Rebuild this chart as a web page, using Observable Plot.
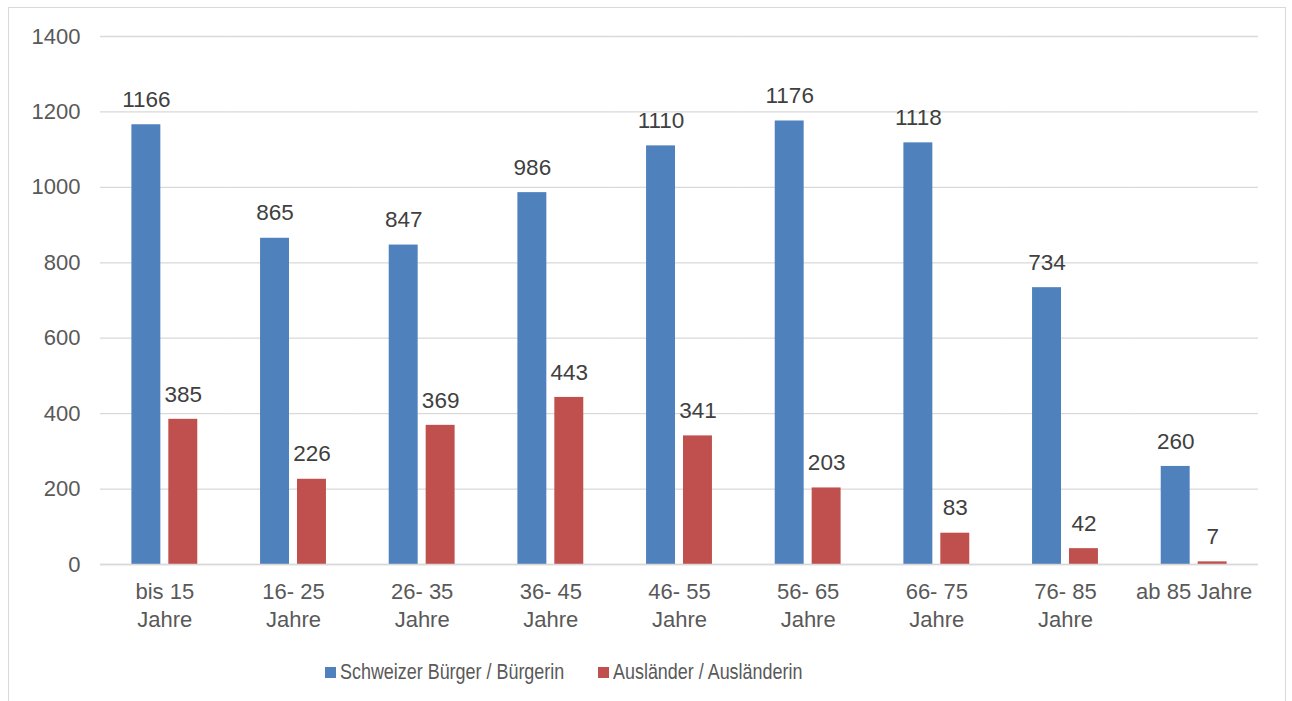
<!DOCTYPE html>
<html>
<head>
<meta charset="utf-8">
<script src="https://cdn.jsdelivr.net/npm/d3@7"></script>
<script src="https://cdn.jsdelivr.net/npm/@observablehq/plot@0.6"></script>
<style>
  html, body { margin: 0; padding: 0; background: #fff; width: 1292px; height: 701px; overflow: hidden; }
  #frame { position: absolute; left: 8px; top: 7px; width: 1278px; height: 720px; border: 1.5px solid #d9d9d9; box-sizing: border-box; }
  #chart { position: absolute; left: 0; top: 0; }
  #legend { position: absolute; left: 0; top: 658px; width: 1292px; height: 28px;
            font-family: "Liberation Sans", Arial, sans-serif; font-size: 22px; color: #595959; }
  .item { position: absolute; top: 0; height: 28px; display: flex; align-items: center; white-space: nowrap; }
  .sw { width: 11px; height: 11px; margin-right: 4px; flex: none; }
  .lt { display: inline-block; transform: scaleX(0.815); transform-origin: 0 50%; }
</style>
</head>
<body>
<div id="frame"></div>
<div id="chart"></div>
<div id="legend"></div>
<script>
const categories = ["bis 15\nJahre", "16- 25\nJahre", "26- 35\nJahre", "36- 45\nJahre", "46- 55\nJahre", "56- 65\nJahre", "66- 75\nJahre", "76- 85\nJahre", "ab 85 Jahre"];
const schweizer = [1166, 865, 847, 986, 1110, 1176, 1118, 734, 260];
const auslaender = [385, 226, 369, 443, 341, 203, 83, 42, 7];
const seriesNames = ["Schweizer Bürger / Bürgerin", "Ausländer / Ausländerin"];
const seriesColors = ["#4f81bd", "#c0504d"];
const yTicks = [0, 200, 400, 600, 800, 1000, 1200, 1400];

const seriesValues = [schweizer, auslaender];
const data = categories.flatMap((c, i) => seriesNames.map((s, j) => ({cat: c, series: s, value: seriesValues[j][i]})));

const chart = Plot.plot({
  width: 1292,
  height: 640,
  marginTop: 36,
  marginLeft: 100,
  marginRight: 34,
  marginBottom: 76,
  style: {fontFamily: "'Liberation Sans', Arial, sans-serif", fontSize: "22px", color: "#595959", background: "transparent"},
  fx: {domain: categories, padding: 0, round: false, label: null},
  x: {domain: seriesNames, paddingInner: 8 / 37, paddingOuter: 0.85, round: false, axis: null},
  y: {domain: [0, 1400], label: null},
  color: {domain: seriesNames, range: seriesColors},
  marks: [
    Plot.gridY(yTicks, {stroke: "#d9d9d9", strokeOpacity: 1, strokeWidth: 1.3}),
    Plot.axisY(yTicks, {tickSize: 0, tickPadding: 20, fontSize: 22, fill: "#595959", tickFormat: "d", label: null}),
    Plot.axisFx({anchor: "bottom", tickSize: 0, tickPadding: 15, fontSize: 22, lineHeight: 1.27, fill: "#595959", label: null}),
    Plot.barY(data, {fx: "cat", x: "series", y: "value", fill: "series"}),
    Plot.ruleY([0], {stroke: "#d9d9d9", strokeWidth: 1.5}),
    Plot.text(data, {fx: "cat", x: "series", y: "value", text: d => String(d.value), dy: -25, fill: "#404040", fontSize: 22.5})
  ]
});
document.getElementById("chart").appendChild(chart);

const legend = document.getElementById("legend");
const legendLeft = [325, 598];
seriesNames.forEach((s, i) => {
  const item = document.createElement("div");
  item.className = "item";
  item.style.left = legendLeft[i] + "px";
  const sw = document.createElement("span");
  sw.className = "sw";
  sw.style.background = seriesColors[i];
  const t = document.createElement("span");
  t.className = "lt";
  t.textContent = s;
  item.appendChild(sw);
  item.appendChild(t);
  legend.appendChild(item);
});
</script>
</body>
</html>
